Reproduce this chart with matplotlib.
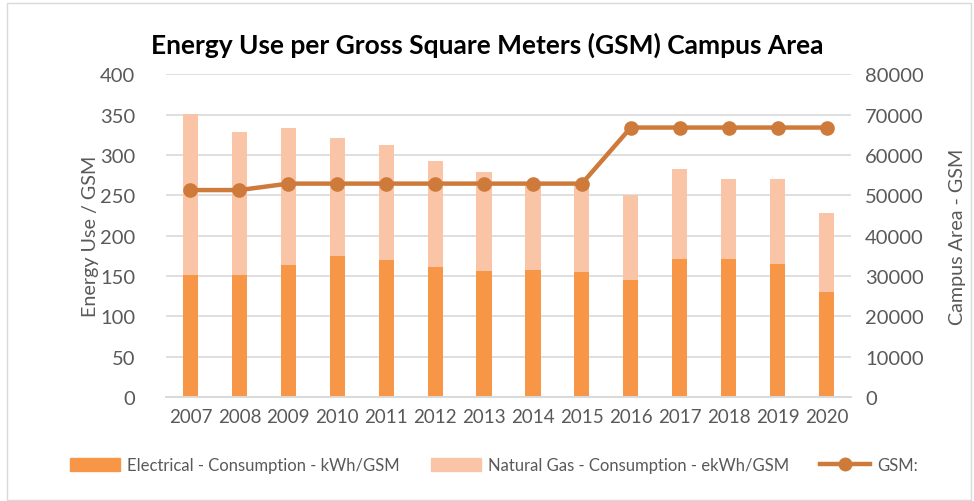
import matplotlib
matplotlib.use("Agg")
import matplotlib.pyplot as plt
from matplotlib.patches import Patch, Rectangle
from matplotlib.lines import Line2D
import numpy as np

years = ["2007", "2008", "2009", "2010", "2011", "2012", "2013",
         "2014", "2015", "2016", "2017", "2018", "2019", "2020"]
electrical = [151, 151, 164, 175, 170, 161, 156, 157, 155, 145, 171, 171, 165, 130]
total_energy = [351, 329, 333, 321, 312, 293, 279, 266, 265, 251, 282, 270, 270, 228]
natural_gas = [t - e for t, e in zip(total_energy, electrical)]
gsm = [51300, 51300, 52900, 52900, 52900, 52900, 52900, 52900, 52900,
       66800, 66800, 66800, 66800, 66800]

plt.rcParams['font.family'] = ['Lato', 'DejaVu Sans']

c_elec = "#F79646"
c_gas = "#FAC4A7"
c_line = "#CD7A3A"
c_text = "#595959"
c_grid = "#D9D9D9"

fig = plt.figure(figsize=(9.74, 5.02), dpi=100)
ax = fig.add_axes([166/974, 1 - 398/502, (851-166)/974, (398-75.3)/502])
ax2 = ax.twinx()

x = np.arange(len(years))
w = 0.31
ax.bar(x, electrical, w, color=c_elec, zorder=2)
ax.bar(x, natural_gas, w, bottom=electrical, color=c_gas, zorder=2)
ax.set_ylim(0, 400)
ax.set_yticks(range(0, 401, 50))
ax.set_xlim(-0.5, len(years) - 0.5)
ax.set_xticks(x)
ax.set_xticklabels(years)
ax.grid(axis='y', color=c_grid, linewidth=1.2, zorder=0)
ax.set_axisbelow(True)

ax2.plot(x, gsm, color=c_line, linewidth=3.2, marker='o', markersize=9.5, zorder=3)
ax2.set_ylim(0, 80000)
ax2.set_yticks(range(0, 80001, 10000))

for a in (ax, ax2):
    for s in ('top', 'left', 'right'):
        a.spines[s].set_visible(False)
    a.spines['bottom'].set_color(c_grid)
    a.spines['bottom'].set_linewidth(1.2)
    a.tick_params(length=0, colors=c_text)
ax.tick_params(axis='y', pad=22, labelsize=14.5)
ax.tick_params(axis='x', pad=8, labelsize=13.5)
ax2.tick_params(axis='y', pad=10, labelsize=14.5)

ax.set_ylabel("Energy Use / GSM", fontsize=14.2, color=c_text, labelpad=1)
ax2.set_ylabel("Campus Area - GSM", fontsize=14.2, color=c_text, labelpad=18)

fig.text(0.5, 1 - 45/502, "Energy Use per Gross Square Meters (GSM) Campus Area",
         ha='center', va='center', fontsize=19, fontweight='bold', color='black')

handles = [Patch(color=c_elec), Patch(color=c_gas),
           Line2D([0], [0], color=c_line, linewidth=3.2, marker='o', markersize=9)]
labels = ["Electrical - Consumption - kWh/GSM",
          "Natural Gas - Consumption - ekWh/GSM", "GSM:"]
fig.legend(handles, labels, loc='center', bbox_to_anchor=(0.507, 1 - 466/502),
           ncol=3, frameon=False, fontsize=12, labelcolor=c_text,
           handlelength=3.0, handleheight=0.8, handletextpad=0.4, columnspacing=1.9)

fig.patches.append(Rectangle((6.5/974, 1/502), (971-6.5)/974, (498-1)/502,
                             transform=fig.transFigure, fill=False,
                             edgecolor=c_grid, linewidth=1))

fig.savefig("out.png", dpi=100)
